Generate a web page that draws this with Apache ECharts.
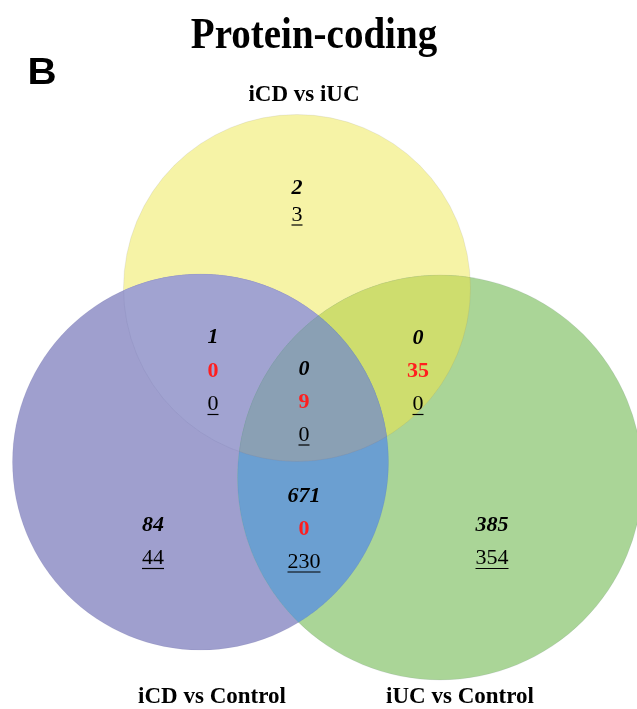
<!DOCTYPE html>
<html><head><meta charset="utf-8">
<script src="https://cdn.jsdelivr.net/npm/echarts@6/dist/echarts.min.js"></script>
<style>html,body{margin:0;padding:0;background:#fff}#c{width:637px;height:709px}</style>
</head><body><div id="c"></div>
<script>
// ---------- data ----------
const titleText = 'Protein-coding';
const panelLetter = 'B';
const setNames = ['iCD vs iUC', 'iCD vs Control', 'iUC vs Control'];
// regions: which sets each region belongs to
const regionSets = [[0], [1], [2], [0, 1], [0, 2], [1, 2], [0, 1, 2]];
const italicCounts = [2, 84, 385, 1, 0, 671, 0];
const redCounts = [null, null, null, 0, 35, 0, 9];
const underlinedCounts = [3, 44, 354, 0, 0, 230, 0];

// ---------- layout (pixel space mapped by hidden axes) ----------
const circles = [
  { cx: 297, cy: 288, r: 173.5 },
  { cx: 200.5, cy: 462, r: 188 },
  { cx: 440, cy: 477.5, r: 202.5 }
];
const circleColors = ['#F6F3A6', '#9F9FCE', '#AAD597'];
const regionColors = [null, null, null, '#A1A3D1', '#CEDD6E', '#6B9FD1', '#8AA0B4'];
// [x, y of first row, row spacing]
const labelAnchors = [[297, 188, 27], [153, 525, 33.5], [492, 525, 33.5], [213, 337.5, 33.5], [418, 338.5, 33], [304, 496, 33], [304, 369, 33]];
const setLabelAnchors = [[304, 95], [212, 697], [460, 697]];

// ---------- geometry helpers ----------
function inside(p, c) { return (p[0] - c.cx) ** 2 + (p[1] - c.cy) ** 2 <= c.r * c.r + 1e-6; }
function intersections(a, b) {
  const dx = b.cx - a.cx, dy = b.cy - a.cy, d = Math.hypot(dx, dy);
  const l = (a.r * a.r - b.r * b.r + d * d) / (2 * d);
  const h = Math.sqrt(Math.max(0, a.r * a.r - l * l));
  const mx = a.cx + l * dx / d, my = a.cy + l * dy / d;
  return [[mx + h * dy / d, my - h * dx / d], [mx - h * dy / d, my + h * dx / d]];
}
function regionPolygon(idxs) {
  const pts = [];
  const N = 1440;
  idxs.forEach(i => {
    const c = circles[i];
    for (let k = 0; k < N; k++) {
      const t = 2 * Math.PI * k / N;
      const p = [c.cx + c.r * Math.cos(t), c.cy + c.r * Math.sin(t)];
      if (idxs.every(j => j === i || inside(p, circles[j]))) pts.push(p);
    }
  });
  for (let a = 0; a < idxs.length; a++) for (let b = a + 1; b < idxs.length; b++) {
    intersections(circles[idxs[a]], circles[idxs[b]]).forEach(p => {
      if (idxs.every(j => j === idxs[a] || j === idxs[b] || inside(p, circles[j]))) pts.push(p);
    });
  }
  const mx = pts.reduce((s, p) => s + p[0], 0) / pts.length;
  const my = pts.reduce((s, p) => s + p[1], 0) / pts.length;
  pts.sort((p, q) => Math.atan2(p[1] - my, p[0] - mx) - Math.atan2(q[1] - my, q[0] - mx));
  return pts;
}
const polys = regionSets.map(s => s.length > 1 ? regionPolygon(s) : null);

const measureCtx = document.createElement('canvas').getContext('2d');
function textWidth(t, font) { measureCtx.font = font; return measureCtx.measureText(t).width; }

const numFontSize = 22;
const serif = '"Liberation Serif", "Times New Roman", serif';

const chart = echarts.init(document.getElementById('c'), null, { renderer: 'canvas' });
chart.setOption({
  animation: false,
  backgroundColor: '#ffffff',
  graphic: [
    { type: 'text', x: 314, y: 36, scaleY: 1.15, z: 10,
      style: { text: titleText, font: 'bold 39px ' + serif, fill: '#000',
               align: 'center', verticalAlign: 'middle', textAlign: 'center', textVerticalAlign: 'middle' } },
    { type: 'text', x: 42, y: 74, scaleX: 1.12, z: 10,
      style: { text: panelLetter, font: 'bold 36px "Liberation Sans", Arial, sans-serif', fill: '#000',
               align: 'center', verticalAlign: 'middle', textAlign: 'center', textVerticalAlign: 'middle' } }
  ],
  grid: { left: 0, right: 0, top: 0, bottom: 0 },
  xAxis: { type: 'value', min: 0, max: 637, show: false },
  yAxis: { type: 'value', min: 0, max: 709, inverse: true, show: false },
  series: [
    { // full circles
      type: 'custom', coordinateSystem: 'cartesian2d', silent: true, z: 1,
      data: circles.map((c, i) => [c.cx, c.cy, c.r, i]),
      renderItem(params, api) {
        const p = api.coord([api.value(0), api.value(1)]);
        const r = api.size([api.value(2), 0])[0];
        return { type: 'circle', shape: { cx: p[0], cy: p[1], r }, style: { fill: circleColors[api.value(3)] } };
      }
    },
    { // overlap regions
      type: 'custom', coordinateSystem: 'cartesian2d', silent: true, z: 2,
      data: [3, 4, 5, 6].map(i => [circles[regionSets[i][0]].cx, circles[regionSets[i][0]].cy, i]),
      renderItem(params, api) {
        const i = api.value(2);
        return { type: 'polygon', shape: { points: polys[i].map(p => api.coord(p)) }, style: { fill: regionColors[i] } };
      }
    },
    { // faint outlines
      type: 'custom', coordinateSystem: 'cartesian2d', silent: true, z: 3,
      data: circles.map((c, i) => [c.cx, c.cy, c.r, i]),
      renderItem(params, api) {
        const p = api.coord([api.value(0), api.value(1)]);
        const r = api.size([api.value(2), 0])[0];
        return { type: 'circle', shape: { cx: p[0], cy: p[1], r }, style: { fill: 'none', stroke: 'rgba(90,90,140,0.1)', lineWidth: 1 } };
      }
    },
    { // region counts
      type: 'custom', coordinateSystem: 'cartesian2d', silent: true, z: 5,
      data: labelAnchors.map((a, i) => [a[0], a[1], i]),
      renderItem(params, api) {
        const i = api.value(2);
        const p = api.coord([api.value(0), api.value(1)]);
        const step = api.size([0, labelAnchors[i][2]])[1];
        const children = [];
        let y = p[1];
        const fItal = 'italic bold ' + numFontSize + 'px ' + serif;
        const fRed = 'bold ' + numFontSize + 'px ' + serif;
        const fNorm = numFontSize + 'px ' + serif;
        children.push({ type: 'text', style: { x: p[0], y, text: String(italicCounts[i]), font: fItal, fill: '#000', align: 'center', verticalAlign: 'middle' } });
        y += step;
        if (redCounts[i] !== null) {
          children.push({ type: 'text', style: { x: p[0], y, text: String(redCounts[i]), font: fRed, fill: '#FF1E1E', align: 'center', verticalAlign: 'middle' } });
          y += step;
        }
        const ut = String(underlinedCounts[i]);
        const w = textWidth(ut, fNorm);
        children.push({ type: 'text', style: { x: p[0], y, text: ut, font: fNorm, fill: '#000', align: 'center', verticalAlign: 'middle' } });
        children.push({ type: 'line', shape: { x1: p[0] - w / 2, y1: y + 10, x2: p[0] + w / 2, y2: y + 10 }, style: { stroke: '#000', lineWidth: 1.2 } });
        return { type: 'group', children };
      }
    },
    { // set names
      type: 'custom', coordinateSystem: 'cartesian2d', silent: true, z: 5,
      data: setLabelAnchors.map((a, i) => [a[0], a[1], i]),
      renderItem(params, api) {
        const p = api.coord([api.value(0), api.value(1)]);
        return { type: 'text', style: { x: p[0], y: p[1], text: setNames[api.value(2)], font: 'bold 23px ' + serif, fill: '#000', align: 'center', verticalAlign: 'middle' } };
      }
    }
  ]
});
</script></body></html>
